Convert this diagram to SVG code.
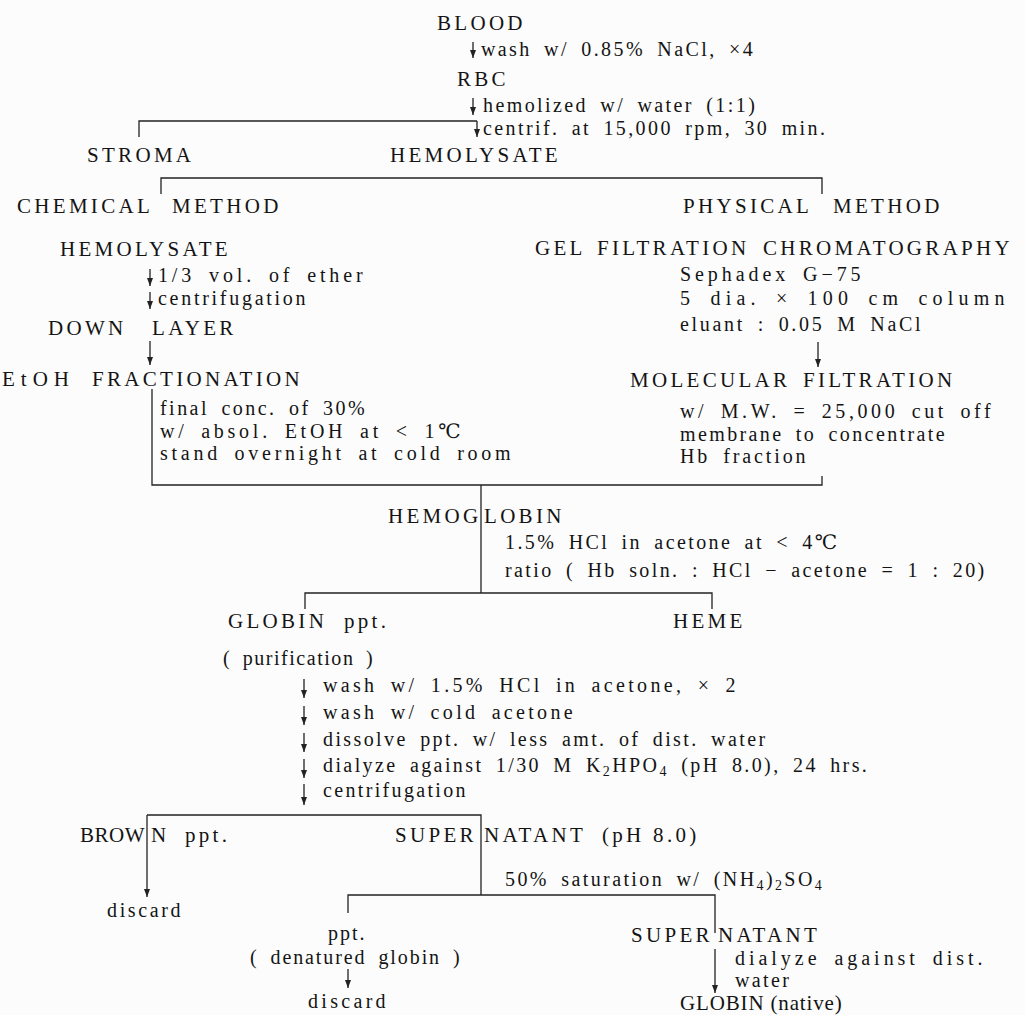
<svg xmlns="http://www.w3.org/2000/svg" width="1025" height="1015" viewBox="0 0 1025 1015">
<style>
.L{font-family:"Liberation Serif","DejaVu Serif","Noto Sans CJK JP",serif;font-size:21px;letter-spacing:3.3px;fill:#141414}
.A{font-family:"Liberation Serif","DejaVu Serif","Noto Sans CJK JP",serif;font-size:20px;letter-spacing:2.4px;word-spacing:5px;fill:#141414}
.c{fill:none;stroke:#222;stroke-width:1.3}
.ar{fill:none;stroke:#222;stroke-width:1.3;marker-end:url(#ah)}
</style>
<defs>
<marker id="ah" markerUnits="userSpaceOnUse" markerWidth="9" markerHeight="7" refX="8" refY="3" orient="auto">
<path d="M0,0 L8,3 L0,6 z" fill="#222"/>
</marker>
</defs>
<rect width="1025" height="1015" fill="#fcfcfc"/>

<g id="connectors">
<line class="ar" x1="473" y1="42" x2="473" y2="58"/>
<line class="ar" x1="473" y1="98" x2="473" y2="115"/>
<path class="c" d="M139,137 V121 H477"/>
<line class="ar" x1="477" y1="121" x2="477" y2="137"/>
<path class="c" d="M161,194 V178 H822 V194"/>
<line class="ar" x1="150" y1="269" x2="150" y2="286"/>
<line class="ar" x1="150" y1="292" x2="150" y2="309"/>
<line class="ar" x1="150" y1="341" x2="150" y2="365"/>
<line class="ar" x1="818" y1="342" x2="818" y2="367"/>
<path class="c" d="M152,389 V485 H822 V476"/>
<path class="c" d="M481,485 V593"/>
<path class="c" d="M305,609 V593 H712 V609"/>
<line class="ar" x1="304" y1="679" x2="304" y2="698"/>
<line class="ar" x1="304" y1="706" x2="304" y2="725"/>
<line class="ar" x1="304" y1="733" x2="304" y2="752"/>
<line class="ar" x1="304" y1="759" x2="304" y2="778"/>
<line class="ar" x1="304" y1="784" x2="304" y2="805"/>
<path class="c" d="M147,815 H481 V895"/>
<line class="ar" x1="147" y1="815" x2="147" y2="897"/>
<path class="c" d="M348,913 V895 H715 V933"/>
<line class="ar" x1="348" y1="969" x2="348" y2="988"/>
<line class="ar" x1="715" y1="949" x2="715" y2="993"/>
</g>

<g id="blood"><text class="L" x="437" y="30">BLOOD</text></g>
<g id="wash-nacl"><text class="A" x="481" y="56">wash w/ 0.85% NaCl, ×4</text></g>
<g id="rbc"><text class="L" x="457" y="86">RBC</text></g>
<g id="hemolize"><text class="A" x="483" y="112">hemolized w/ water (1:1)</text></g>
<g id="centrif-1"><text class="A" x="483" y="135">centrif. at 15,000 rpm, 30 min.</text></g>
<g id="stroma"><text class="L" x="87" y="162">STROMA</text></g>
<g id="hemolysate"><text class="L" x="390" y="162">HEMOLYSATE</text></g>

<g id="chemical-method"><text class="L" y="213"><tspan x="17">CHEMICAL</tspan><tspan x="172">METHOD</tspan></text></g>
<g id="physical-method"><text class="L" y="213"><tspan x="683">PHYSICAL</tspan><tspan x="833">METHOD</tspan></text></g>

<g id="hemolysate-2"><text class="L" x="60" y="256">HEMOLYSATE</text></g>
<g id="ether"><text class="A" x="158" y="282" textLength="207" lengthAdjust="spacing">1/3 vol. of ether</text></g>
<g id="centrif-2"><text class="A" x="158" y="305" textLength="150" lengthAdjust="spacing">centrifugation</text></g>
<g id="down-layer"><text class="L" y="335"><tspan x="48">DOWN</tspan><tspan x="152">LAYER</tspan></text></g>
<g id="etoh-fractionation"><text class="L" y="386"><tspan x="2" style="letter-spacing:6px">EtOH</tspan><tspan x="92">FRACTIONATION</tspan></text></g>
<g id="etoh-conditions">
<text class="A" x="160" y="415" textLength="207" lengthAdjust="spacing">final conc. of 30%</text>
<text class="A" x="160" y="438" textLength="303" lengthAdjust="spacing">w/ absol. EtOH at &lt; 1℃</text>
<text class="A" x="160" y="460" textLength="353" lengthAdjust="spacing">stand overnight at cold room</text>
</g>

<g id="gel-filtration"><text class="L" y="255"><tspan x="535">GEL</tspan><tspan x="597">FILTRATION</tspan><tspan x="763">CHROMATOGRAPHY</tspan></text></g>
<g id="gel-conditions">
<text class="A" x="680" y="281" textLength="183" lengthAdjust="spacing">Sephadex G−75</text>
<text class="A" x="680" y="305" textLength="327" lengthAdjust="spacing">5 dia. × 100 cm column</text>
<text class="A" x="680" y="331" textLength="243" lengthAdjust="spacing">eluant : 0.05 M NaCl</text>
</g>
<g id="molecular-filtration"><text class="L" y="387"><tspan x="630">MOLECULAR</tspan><tspan x="803">FILTRATION</tspan></text></g>
<g id="molecular-conditions">
<text class="A" x="680" y="418" textLength="313" lengthAdjust="spacing">w/ M.W. = 25,000 cut off</text>
<text class="A" x="680" y="441" textLength="267" lengthAdjust="spacing">membrane to concentrate</text>
<text class="A" x="680" y="463" textLength="128" lengthAdjust="spacing">Hb fraction</text>
</g>

<g id="hemoglobin"><text class="L" y="523"><tspan x="388">HEMOG</tspan><tspan x="484">LOBIN</tspan></text></g>
<g id="hcl-conditions">
<text class="A" x="505" y="549">1.5% HCl in acetone at &lt; 4℃</text>
<text class="A" x="505" y="577">ratio ( Hb soln. : HCl − acetone = 1 : 20)</text>
</g>
<g id="globin-ppt"><text class="L" y="628"><tspan x="228">GLOBIN</tspan><tspan x="344">ppt.</tspan></text></g>
<g id="heme"><text class="L" x="673" y="628">HEME</text></g>
<g id="purification"><text class="A" x="223" y="665" textLength="152" lengthAdjust="spacing">( purification )</text></g>
<g id="purification-steps">
<text class="A" x="323" y="692" textLength="415" lengthAdjust="spacing">wash w/ 1.5% HCl in acetone, × 2</text>
<text class="A" x="323" y="719" textLength="252" lengthAdjust="spacing">wash w/ cold acetone</text>
<text class="A" x="323" y="746">dissolve ppt. w/ less amt. of dist. water</text>
<text class="A" x="323" y="772">dialyze against 1/30 M K<tspan dy="4" font-size="14">2</tspan><tspan dy="-4">HPO</tspan><tspan dy="4" font-size="14">4</tspan><tspan dy="-4"> (pH 8.0), 24 hrs.</tspan></text>
<text class="A" x="323" y="797" textLength="145" lengthAdjust="spacing">centrifugation</text>
</g>

<g id="brown-ppt"><text class="L" y="842"><tspan x="80" style="letter-spacing:0.5px">BROW</tspan><tspan x="151">N</tspan><tspan x="185">ppt.</tspan></text></g>
<g id="supernatant-1"><text class="L" y="842"><tspan x="395">SUPER</tspan><tspan x="484">NATANT</tspan><tspan x="602">(pH 8.0)</tspan></text></g>
<g id="ammonium-sulfate"><text class="A" x="505" y="886">50% saturation w/ (NH<tspan dy="4" font-size="14">4</tspan><tspan dy="-4">)</tspan><tspan dy="4" font-size="14">2</tspan><tspan dy="-4">SO</tspan><tspan dy="4" font-size="14">4</tspan></text></g>
<g id="discard-1"><text class="A" x="107" y="917" textLength="76" lengthAdjust="spacing">discard</text></g>
<g id="ppt-2"><text class="A" x="328" y="940" textLength="39" lengthAdjust="spacing">ppt.</text></g>
<g id="denatured"><text class="A" x="250" y="964" textLength="212" lengthAdjust="spacing">( denatured globin )</text></g>
<g id="discard-2"><text class="A" x="308" y="1008" textLength="80" lengthAdjust="spacing">discard</text></g>
<g id="supernatant-2"><text class="L" y="942"><tspan x="631">SUPER</tspan><tspan x="718">NATANT</tspan></text></g>
<g id="dialyze-water">
<text class="A" x="735" y="965" textLength="250" lengthAdjust="spacing">dialyze against dist.</text>
<text class="A" x="735" y="987">water</text>
</g>
<g id="globin-native"><text class="L" x="680" y="1010" textLength="165" lengthAdjust="spacing">GLOBIN (native)</text></g>
</svg>
